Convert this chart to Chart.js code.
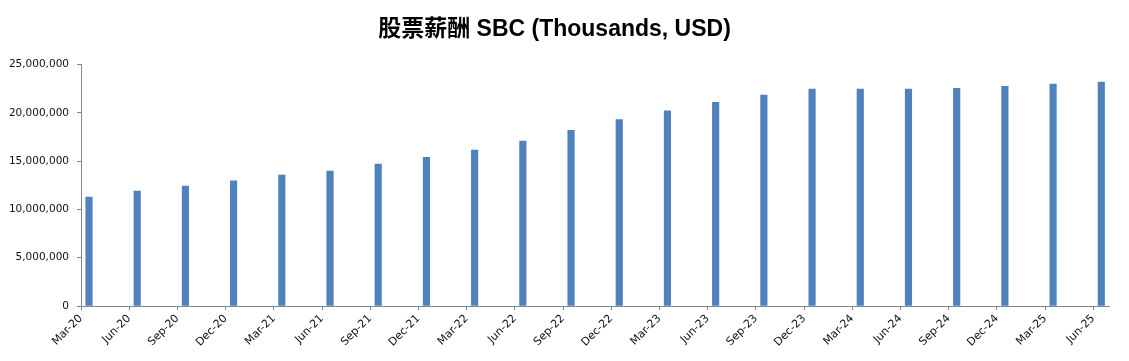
<!DOCTYPE html>
<html><head><meta charset="utf-8">
<script src="https://cdn.jsdelivr.net/npm/chart.js@4.4.1/dist/chart.umd.min.js"></script>
<style>html,body{margin:0;padding:0;background:#fff}#wrap{width:1129px;height:361px}</style>
</head><body><div id="wrap"><canvas id="c" width="1129" height="361"></canvas></div>
<script>
const titleText = '股票薪酬 SBC (Thousands, USD)';
const categories = ['Mar-20','Jun-20','Sep-20','Dec-20','Mar-21','Jun-21','Sep-21','Dec-21','Mar-22','Jun-22','Sep-22','Dec-22','Mar-23','Jun-23','Sep-23','Dec-23','Mar-24','Jun-24','Sep-24','Dec-24','Mar-25','Jun-25'];
const sbcValues = [11280000,11900000,12420000,12960000,13560000,13960000,14700000,15400000,16150000,17080000,18200000,19300000,20200000,21100000,21850000,22460000,22460000,22460000,22550000,22760000,22970000,23200000];
const yTickValues = [0,5000000,10000000,15000000,20000000,25000000];

const tickShift = 0.166;
const axisColor = '#868686';
const labelFont = {family: "'DejaVu Sans', sans-serif", size: 11};

new Chart(document.getElementById('c'), {
  type: 'bar',
  data: {
    datasets: [{
      label: 'SBC',
      data: categories.map((c, i) => ({x: i, y: sbcValues[i]})),
      backgroundColor: '#4F81BD',
      borderWidth: 0,
      barThickness: 6.5
    }]
  },
  options: {
    responsive: false,
    animation: false,
    devicePixelRatio: 1,
    layout: {padding: {left: 0, right: 20, top: 0, bottom: 0}},
    plugins: {
      legend: {display: false},
      tooltip: {enabled: false},
      title: {
        display: true,
        text: titleText,
        color: '#000',
        font: {family: "'Liberation Sans', 'Noto Sans CJK SC', sans-serif", size: 23, weight: 'bold', lineHeight: 1.2},
        padding: {top: 16, bottom: 21}
      }
    },
    scales: {
      x: {
        type: 'linear',
        offset: false,
        min: -tickShift,
        max: 21.16,
        afterBuildTicks: (scale) => { scale.ticks = categories.map((c, i) => ({value: i - tickShift})); },
        afterFit: (scale) => { scale.height = 55; },
        grid: {drawOnChartArea: false, drawTicks: true, tickLength: 4, color: axisColor, offset: false},
        border: {color: axisColor, width: 1},
        ticks: {
          autoSkip: false,
          maxRotation: 45,
          minRotation: 45,
          padding: 2,
          color: '#111',
          font: labelFont,
          callback: (v, idx) => categories[idx]
        }
      },
      y: {
        min: 0,
        max: 25000000,
        afterBuildTicks: (scale) => { scale.ticks = yTickValues.map(v => ({value: v})); },
        afterFit: (scale) => { scale.width = 81; },
        grid: {drawOnChartArea: false, drawTicks: true, tickLength: 4, color: axisColor},
        border: {color: axisColor, width: 1},
        ticks: {
          padding: 8,
          color: '#111',
          font: {family: "'DejaVu Sans', sans-serif", size: 10.5},
          callback: (v) => v.toLocaleString('en-US')
        }
      }
    }
  }
});
</script></body></html>
